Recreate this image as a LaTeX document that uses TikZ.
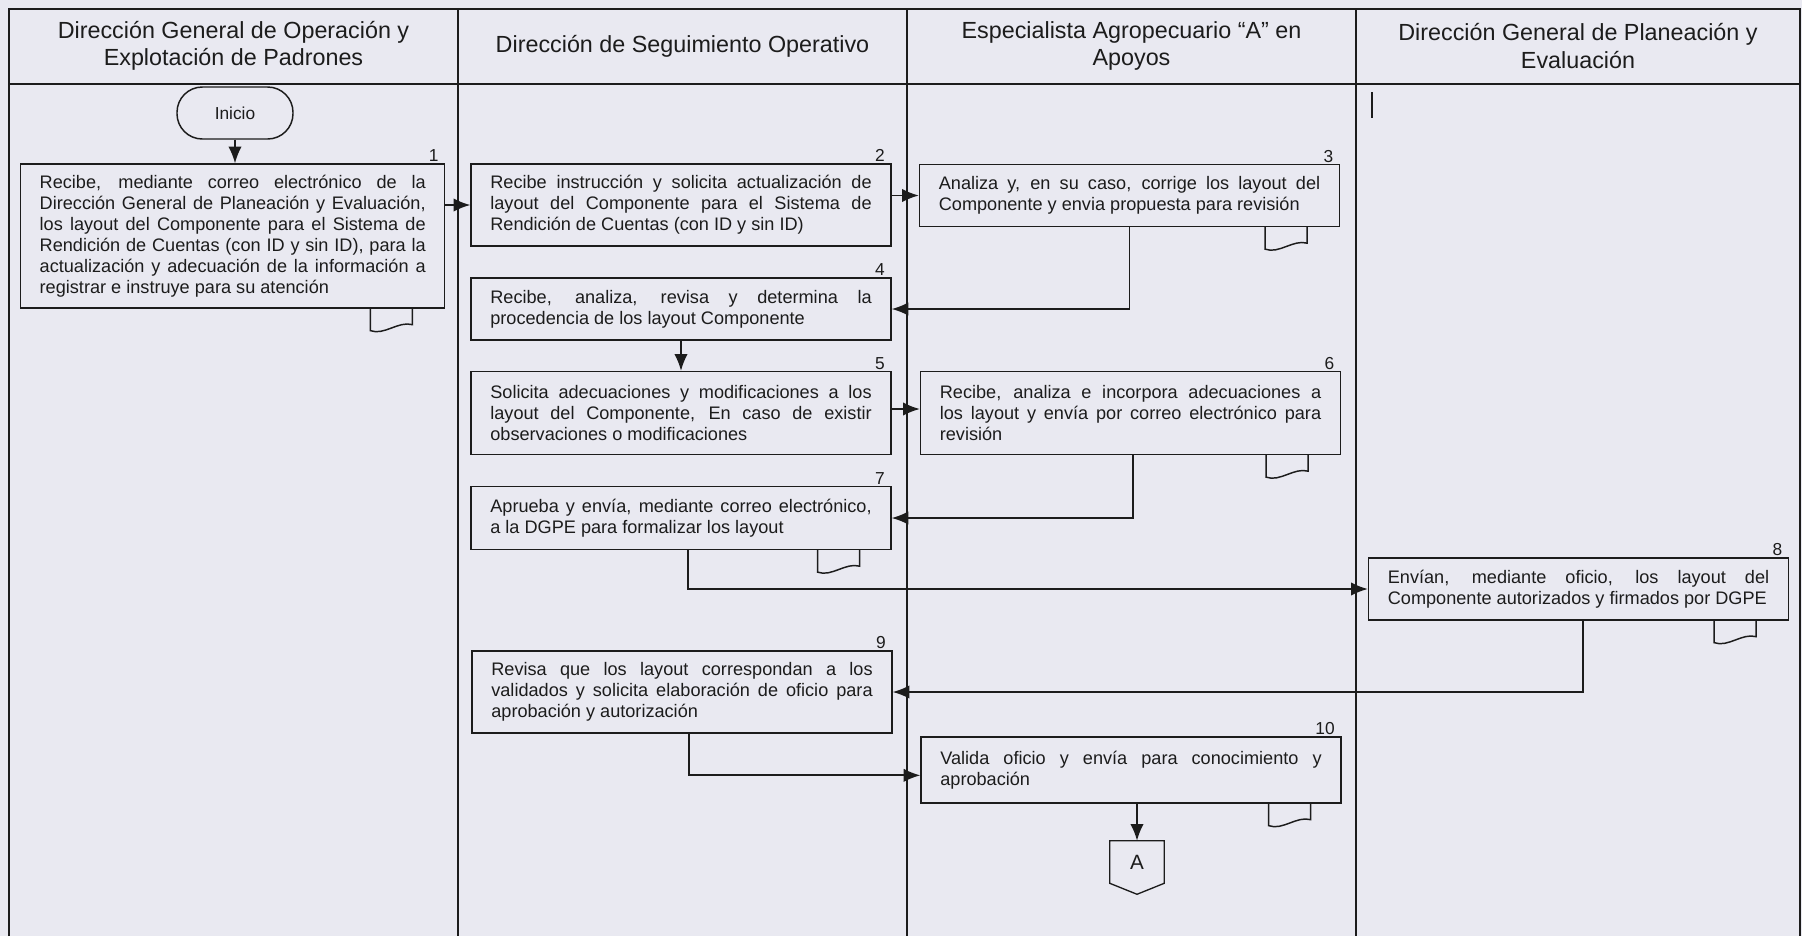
\documentclass[tikz,border=0pt]{standalone}
\usepackage{fontspec}
\setmainfont{Liberation Sans}
\usetikzlibrary{arrows.meta,calc}
\hyphenpenalty=10000
\exhyphenpenalty=10000
\tolerance=9999
\definecolor{bgc}{RGB}{233,233,241}
\definecolor{ink}{RGB}{28,28,28}
\tikzset{
  docsym/.pic={\draw[draw=ink,line width=1.1pt] (0,0) -- (0,22) .. controls (14,27) and (28,12) .. (42,16) -- (42,0);}
}
\begin{document}
\begin{tikzpicture}[x=0.75pt,y=-0.75pt,
  lane/.style={draw=ink,line width=1pt},
  box/.style={draw=ink,fill=bgc,line width=1pt,inner xsep=14.25pt,inner ysep=2pt,align=justify,text=ink,
    font=\fontsize{13.6}{15.8}\selectfont,text width=286pt,minimum width=315pt},
  wide/.style={text width=289.5pt,minimum width=318pt},
  conn/.style={draw=ink,line width=1.3pt,-{Latex[length=12.5pt,width=10pt]}},
  head/.style={font=\fontsize{17.5}{20.5}\selectfont,align=center,text=ink},
  num/.style={font=\fontsize{13}{15}\selectfont,inner sep=1pt,anchor=south east,text=ink}
]
\useasboundingbox (0,0) rectangle (1802,936);
\fill[bgc] (0,0) rectangle (1802,936);

% swimlanes
\draw[lane] (9,936) -- (9,9) -- (1800,9) -- (1800,936);
\draw[lane] (9,84) -- (1800,84);
\draw[lane] (458,9) -- (458,936);
\draw[lane] (907,9) -- (907,936);
\draw[lane] (1356,9) -- (1356,936);
\draw[draw=ink,line width=1pt] (1372,92) -- (1372,118);

\node[head] (h1) at (233.5,46) {Dirección General de Operación y\\Explotación de Padrones};
\node[head] (h2) at (682.5,46) {Dirección de Seguimiento Operativo};
\node[head] (h3) at (1131.5,46) {Especialista Agropecuario “A” en\\Apoyos};
\node[head] (h4) at (1578,46) {Dirección General de Planeación y\\Evaluación};

% start
\node[draw=ink,fill=bgc,line width=1.1pt,rounded corners=19pt,minimum width=87pt,minimum height=39pt,
  font=\fontsize{13}{15}\selectfont,text=ink] (I) at (235,113) {Inicio};

% boxes
\node[box,wide,minimum height=108pt] (B1) at (232.7,236) {Recibe, mediante correo electrónico de la\linebreak Dirección General de Planeación y Evaluación,\linebreak los layout del Componente para el Sistema de\linebreak Rendición de Cuentas (con ID y sin ID), para la\linebreak actualización y adecuación de la información a\linebreak registrar e instruye para su atención};
\node[box,minimum height=61.5pt] (B2) at (681,205) {Recibe instrucción y solicita actualización de\linebreak layout del Componente para el Sistema de\linebreak Rendición de Cuentas (con ID y sin ID)};
\node[box,minimum height=46.5pt] (B3) at (1129.5,195.5) {Analiza y, en su caso, corrige los layout del\linebreak Componente y envia propuesta para revisión};
\node[box,minimum height=46.5pt] (B4) at (681,309) {Recibe, analiza, revisa y determina la\linebreak procedencia de los layout Componente};
\node[box,minimum height=62.25pt] (B5) at (681,413) {Solicita adecuaciones y modificaciones a los\linebreak layout del Componente, En caso de existir\linebreak observaciones o modificaciones};
\node[box,minimum height=62.25pt] (B6) at (1130.5,413) {Recibe, analiza e incorpora adecuaciones a\linebreak los layout y envía por correo electrónico para\linebreak revisión};
\node[box,minimum height=47.25pt] (B7) at (681,518) {Aprueba y envía, mediante correo electrónico,\linebreak a la DGPE para formalizar los layout};
\node[box,minimum height=46.5pt] (B8) at (1578.5,589) {Envían, mediante oficio, los layout del\linebreak Componente autorizados y firmados por DGPE};
\node[box,minimum height=61.5pt] (B9) at (682,692) {Revisa que los layout correspondan a los\linebreak validados y solicita elaboración de oficio para\linebreak aprobación y autorización};
\node[box,minimum height=49.5pt] (B10) at (1131,770) {Valida oficio y envía para conocimiento y\linebreak aprobación};

% off-page connector
\node[inner sep=0pt,minimum width=40.5pt,minimum height=31.5pt,font=\fontsize{15.5}{18}\selectfont,text=ink] (A) at (1137,862) {A};
\draw[draw=ink,line width=1pt] (A.north west) -- (A.north east) -- (A.south east) -- ($(A.south)+(0,11)$) -- (A.south west) -- cycle;

% numbers
\node[num] (n1) at ([xshift=-4pt]B1.north east) {1};
\node[num] (n2) at ([xshift=-4pt]B2.north east) {2};
\node[num] (n3) at ([xshift=-4pt]B3.north east) {3};
\node[num] (n4) at ([xshift=-4pt]B4.north east) {4};
\node[num] (n5) at ([xshift=-4pt]B5.north east) {5};
\node[num] (n6) at ([xshift=-4pt]B6.north east) {6};
\node[num] (n7) at ([xshift=-4pt]B7.north east) {7};
\node[num] (n8) at ([xshift=-4pt]B8.north east) {8};
\node[num] (n9) at ([xshift=-4pt]B9.north east) {9};
\node[num] (n10) at ([xshift=-4pt]B10.north east) {10};

% document symbols
\pic at ($(B1.south east)+(-75,0)$) {docsym};
\pic at ($(B3.south east)+(-75,0)$) {docsym};
\pic at ($(B6.south east)+(-75,0)$) {docsym};
\pic at ($(B7.south east)+(-74,0)$) {docsym};
\pic at ($(B8.south east)+(-75,0)$) {docsym};
\pic at ($(B10.south east)+(-73,0)$) {docsym};

% connectors
\draw[conn] (I.south) -- (I.south |- B1.north);
\draw[conn] (B1.east |- B2.west) -- (B2.west);
\draw[conn] (B2.east |- B3.west) -- (B3.west);
\draw[conn] (B3.south) |- (B4.east);
\draw[conn] (B4.south) -- (B5.north);
\draw[conn] ([yshift=3pt]B5.east) -- ([yshift=3pt]B6.west);
\draw[conn] ([xshift=2pt]B6.south) |- (B7.east);
\draw[conn] ([xshift=5pt]B7.south) |- (B8.west);
\draw[conn] ([xshift=3.4pt]B8.south) |- (B9.east);
\draw[conn] ([xshift=5pt]B9.south) |- ([yshift=-4pt]B10.west);
\draw[conn] (A.north |- B10.south) -- (A.north);
\end{tikzpicture}
\end{document}
